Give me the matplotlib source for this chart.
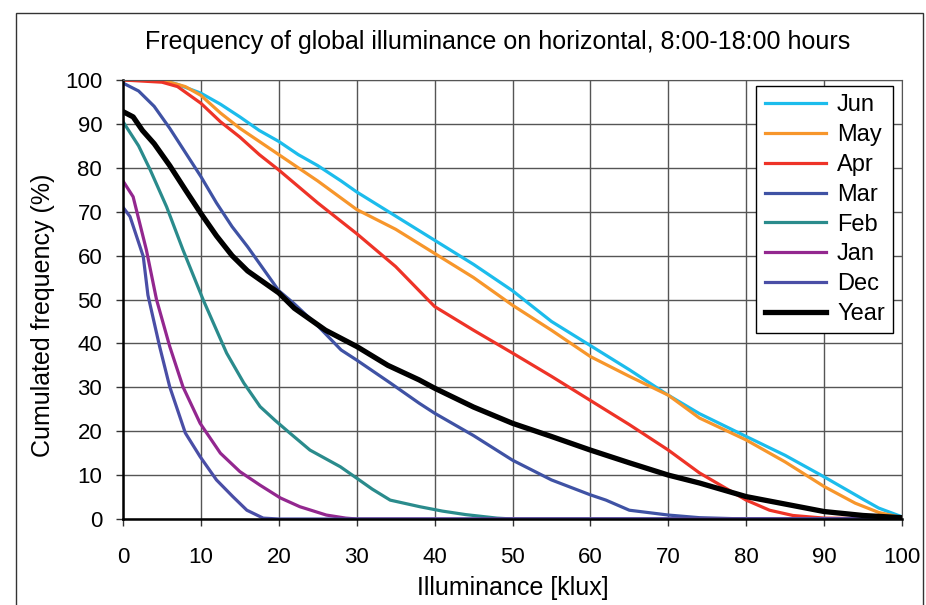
import numpy as np
import matplotlib.pyplot as plt
from matplotlib.patches import Rectangle

plt.rcParams['font.family'] = ['Liberation Sans', 'DejaVu Sans']
plt.rcParams['font.size'] = 16

# illuminance (klux) / cumulated frequency (%)
jun_x = [0, 5, 7, 10, 12.5, 15, 17.5, 20, 22.5, 25, 28, 30, 35, 40, 45, 50, 55, 60, 65, 70, 74, 80, 85, 90, 95, 97, 100]
jun_y = [100, 100, 99, 97, 94.5, 91.6, 88.5, 86, 83, 80.5, 77, 74.5, 69, 63.5, 58, 52, 45, 39.5, 34, 28.2, 24, 18.8, 14.5, 9.6, 4.5, 2.5, 0.5]
may_x = [0, 5, 8, 10, 12.5, 15, 17.5, 20, 22.5, 25, 30, 35, 40, 45, 50, 55, 60, 65, 70, 74, 80, 85, 90, 94, 97, 100]
may_y = [100, 100, 98.5, 96.5, 92.5, 89, 86, 83, 80, 77, 70.5, 66, 60.5, 55, 48.7, 43, 37, 32.5, 28.2, 23, 18, 13, 7.4, 3.6, 1.5, 0.3]
apr_x = [0, 5, 7, 10, 12.5, 15, 17.5, 20, 25, 30, 35, 40, 45, 50, 55, 60, 65, 70, 74, 80, 83, 86, 90, 100]
apr_y = [100, 99.5, 98.5, 94.7, 90.5, 87, 83, 79.5, 72, 65, 57.5, 48.4, 43, 37.8, 32.5, 27, 21.5, 15.7, 10.5, 4.3, 2, 0.8, 0.2, 0]
mar_x = [0, 2, 4, 6, 8, 10, 12, 14, 16, 18, 20, 22, 25, 28, 30, 34.3, 38, 40, 45, 50, 55, 60, 62, 65, 70, 74, 80, 100]
mar_y = [99.3, 97.5, 94, 89, 83.5, 78, 72, 66.6, 62, 57, 52, 49, 44, 38.5, 36.2, 31, 26.4, 24.1, 19, 13.4, 8.9, 5.5, 4.3, 2.0, 0.9, 0.3, 0, 0]
feb_x = [0, 2, 3.5, 5.6, 7.7, 10.3, 13.3, 15.5, 17.6, 19.5, 21.4, 24, 27.9, 30, 32, 34.3, 38.1, 41, 44, 48, 50, 100]
feb_y = [90.5, 85, 79.5, 71.1, 61.3, 49.9, 37.8, 31, 25.6, 22.5, 19.6, 15.7, 11.9, 9.3, 6.8, 4.3, 2.8, 1.8, 1, 0.2, 0, 0]
jan_x = [0, 1.3, 3, 4.3, 6, 7.7, 9.9, 12.5, 15, 17.6, 20.2, 22.7, 26.1, 28.6, 30, 100]
jan_y = [77, 73.4, 61.3, 50, 39.3, 30.1, 21.8, 15, 10.8, 7.7, 4.8, 2.8, 0.9, 0.2, 0, 0]
dec_x = [0, 0.9, 2.6, 3.2, 4.7, 6, 8, 9.9, 12, 14.1, 15.9, 18, 20, 100]
dec_y = [71, 68.9, 59.8, 51, 39.3, 30.1, 19.6, 14.2, 8.9, 5.1, 2, 0.2, 0, 0]
year_x = [0, 1.3, 2.5, 4, 6, 8, 10, 12, 14, 16, 18, 20, 22, 24, 26, 30, 34, 38, 40, 45, 50, 55, 60, 65, 70, 74, 80, 85.6, 90, 95, 100]
year_y = [92.8, 91.6, 88.5, 85.5, 80.5, 75, 69.6, 64.5, 60, 56.5, 54, 51.5, 48, 45.5, 43, 39.3, 35, 31.7, 29.8, 25.5, 21.8, 18.8, 15.7, 12.8, 10, 8.2, 5.1, 3.2, 1.7, 0.8, 0.3]

series = [
    ('Jun', jun_x, jun_y, '#1cbcec', 2.3),
    ('May', may_x, may_y, '#f7962b', 2.3),
    ('Apr', apr_x, apr_y, '#ee3327', 2.3),
    ('Mar', mar_x, mar_y, '#3f52a4', 2.3),
    ('Feb', feb_x, feb_y, '#2a8b8c', 2.3),
    ('Jan', jan_x, jan_y, '#93278f', 2.3),
    ('Dec', dec_x, dec_y, '#4a4ea6', 2.3),
    ('Year', year_x, year_y, 'black', 3.8),
]

fig = plt.figure(figsize=(9.26, 6.05), dpi=100)
ax = fig.add_axes([123/926, 86/605, 779/926, 439/605])

for name, x, y, c, lw in series:
    ax.plot(x, y, color=c, lw=lw, label=name, solid_joinstyle='round')

ax.set_xlim(0, 100)
ax.set_ylim(0, 100)
ax.set_xticks(np.arange(0, 101, 10))
ax.set_yticks(np.arange(0, 101, 10))
ax.grid(True, color='#555555', lw=1)
ax.tick_params(direction='out', length=5, width=1, color='#333333', labelsize=16)
ax.tick_params(axis='x', pad=15)
ax.tick_params(axis='y', pad=10)
for s in ['top', 'right']:
    ax.spines[s].set_color('#555555')
for s in ['left', 'bottom']:
    ax.spines[s].set_linewidth(1.8)

ax.set_xlabel('Illuminance [klux]', fontsize=18)
ax.set_ylabel('Cumulated frequency (%)', fontsize=18)
ax.xaxis.set_label_coords(0.5, -0.13)
ax.yaxis.set_label_coords(-0.0875, 0.465)

fig.text(498/926, 1 - 49.3/605, 'Frequency of global illuminance on horizontal, 8:00-18:00 hours',
         ha='center', va='baseline', fontsize=18,
         family=['Liberation Sans Narrow', 'Liberation Sans', 'DejaVu Sans'])

leg = ax.legend(loc='upper right', bbox_to_anchor=(0.9885, 0.986), borderaxespad=0,
                fancybox=False, edgecolor='black', framealpha=1, fontsize=17,
                handlelength=2.6, handletextpad=0.47, labelspacing=0.33, borderpad=0.35)
leg.get_frame().set_linewidth(1)

fig.patches.append(Rectangle((16/926, -0.01), 907/926, 1 - 13/605 + 0.01, transform=fig.transFigure,
                             fill=False, edgecolor='#333333', lw=1))

plt.savefig('out.png', dpi=100)
